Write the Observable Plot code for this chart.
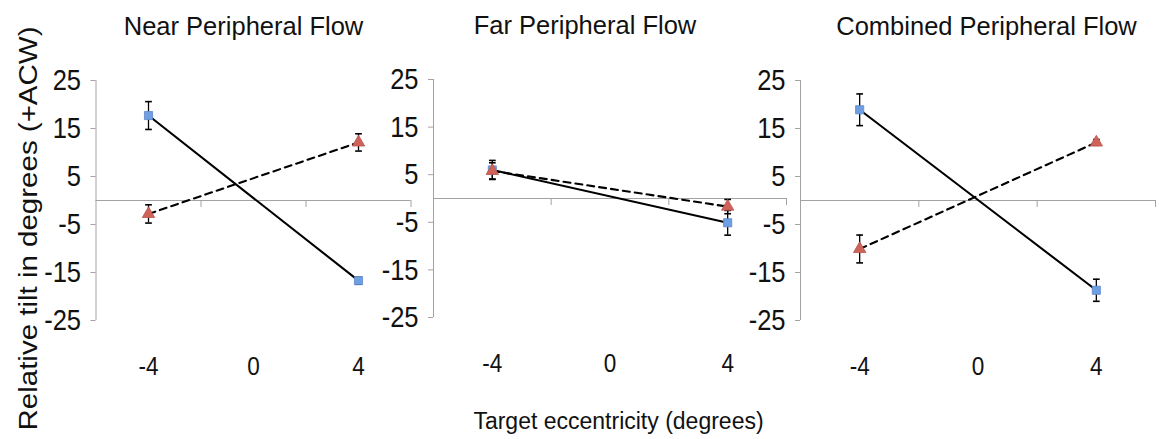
<!DOCTYPE html>
<html>
<head>
<meta charset="utf-8">
<script src="https://cdn.jsdelivr.net/npm/d3@7"></script>
<script src="https://cdn.jsdelivr.net/npm/@observablehq/plot@0.6"></script>
<style>
  html, body { margin: 0; padding: 0; background: #fff; }
  #chart { position: relative; width: 1159px; height: 439px; overflow: hidden; background: #fff; }
  #chart svg { position: absolute; top: 0; overflow: visible; background: transparent; }
</style>
</head>
<body>
<div id="chart"></div>
<script>
// Target eccentricity (degrees): tick labels and the two measured positions
const eccentricityTicks = [-4, 0, 4];
const eccentricity = [-4, 4];
// Category boundaries on the zero line
const boundaryTicks = [-2, 2, 6];
const xDomain = [-6, 6];

// Relative tilt (degrees, +ACW)
const tiltTicks = [25, 15, 5, -5, -15, -25];
const yDomain = [-25, 25];

const panelTitles = ["Near Peripheral Flow", "Far Peripheral Flow", "Combined Peripheral Flow"];
const yLabel = "Relative tilt in degrees (+ACW)";
const xLabel = "Target eccentricity (degrees)";

// Square series (solid line) and triangle series (dashed line), with error bars
const nearSquare = [17.7, -16.7];
const nearSquareErr = [2.9, 0.7];
const nearTriangle = [-2.8, 12.1];
const nearTriangleErr = [1.9, 1.8];

const farSquare = [6.0, -5.1];
const farSquareErr = [2.0, 2.6];
const farTriangle = [5.8, -1.7];
const farTriangleErr = [1.7, 1.5];

const combinedSquare = [18.9, -18.7];
const combinedSquareErr = [3.3, 2.3];
const combinedTriangle = [-10.1, 12.1];
const combinedTriangleErr = [2.9, 0.6];

const FONT = "'Liberation Sans', Arial, Helvetica, sans-serif";
const AXIS_GRAY = "#a3a3a3";
const TEXT = "#111";
const BLUE = "#6e9fe3";
const BLUE_EDGE = "#5d88c9";
const RED = "#cf6259";
const RED_EDGE = "#b9544c";
const TICK_CONDENSE = 0.85;   // tick numerals are set in a narrow cut
const LABEL_CONDENSE = 0.86;  // vertical axis title glyphs are narrow too

const plain = d => `${d}`;    // hyphen-minus for negative numbers

// Horizontal error-bar cap drawn as a dot symbol
const cap = {
  draw(context, size) {
    const w = Math.sqrt(size) / 2;
    context.moveTo(-w, 0);
    context.lineTo(w, 0);
  }
};

function rowsFor(values, errors, series) {
  return eccentricity.map((x, i) => ({x, y: values[i], err: errors[i], series}));
}

function panel({title, square, squareErr, triangle, triangleErr, layout, extras = []}) {
  const sq = rowsFor(square, squareErr, "square");
  const tr = rowsFor(triangle, triangleErr, "triangle");
  const rows = sq.concat(tr);
  const svg = Plot.plot({
    width: layout.width,
    height: 439,
    marginLeft: layout.marginLeft,
    marginRight: layout.marginRight,
    marginTop: layout.marginTop,
    marginBottom: 439 - layout.frameBottom,
    style: {background: "transparent", overflow: "visible"},
    x: {domain: xDomain, axis: null},
    y: {domain: yDomain, axis: null},
    marks: [
      // vertical axis line and outward ticks
      Plot.ruleX([xDomain[0]], {stroke: AXIS_GRAY, strokeWidth: 1}),
      Plot.axisY({ticks: tiltTicks, tickFormat: plain, tickSize: 5, tickPadding: 10, stroke: AXIS_GRAY,
        fill: TEXT, fontSize: 30, fontFamily: FONT, label: null}),
      // zero line with hanging category ticks
      Plot.ruleY([0], {stroke: AXIS_GRAY, strokeWidth: 1}),
      Plot.ruleX(boundaryTicks, {y1: 0, y2: 0, insetBottom: -7, stroke: AXIS_GRAY, strokeWidth: 1}),
      Plot.axisX({ticks: eccentricityTicks, tickFormat: plain, tickSize: 0, tickPadding: 36, fill: TEXT,
        fontSize: 26.5, fontFamily: FONT, label: null}),
      // series lines
      Plot.line(sq, {x: "x", y: "y", stroke: "#000", strokeWidth: 2.1}),
      Plot.line(tr, {x: "x", y: "y", stroke: "#000", strokeWidth: 2.1, strokeDasharray: "7,5"}),
      // error bars
      Plot.ruleX(rows, {x: "x", y1: d => d.y - d.err, y2: d => d.y + d.err, stroke: "#000", strokeWidth: 1.3}),
      Plot.dot(rows, {x: "x", y: d => d.y - d.err, symbol: cap, r: 3.8, fill: "none", stroke: "#000", strokeWidth: 1.6}),
      Plot.dot(rows, {x: "x", y: d => d.y + d.err, symbol: cap, r: 3.8, fill: "none", stroke: "#000", strokeWidth: 1.6}),
      // markers
      Plot.dot(sq, {x: "x", y: "y", symbol: "square", r: 4.6, fill: BLUE, stroke: BLUE_EDGE, strokeWidth: 0.8}),
      Plot.dot(tr, {x: "x", y: "y", symbol: "triangle", r: 4.6, fill: RED, stroke: RED_EDGE, strokeWidth: 0.8}),
      // panel title
      Plot.text([title], {frameAnchor: "top", dx: layout.titleDx, dy: -53.2, lineAnchor: "middle",
        fontSize: 25.5, fontFamily: FONT, fill: TEXT}),
      ...extras
    ]
  });
  svg.style.left = layout.left + "px";
  return svg;
}

// Narrow the tick numerals once they can be measured
function condenseTicks(svg) {
  svg.querySelectorAll('g[aria-label$="tick label"] text').forEach(t => {
    const len = t.getComputedTextLength();
    t.setAttribute("textLength", (len * TICK_CONDENSE).toFixed(2));
    t.setAttribute("lengthAdjust", "spacingAndGlyphs");
  });
}

// Make the rotated axis title's glyphs narrower across their stroke direction
function condenseRotated(svg) {
  svg.querySelectorAll("text").forEach(t => {
    if (t.textContent !== yLabel) return;
    const tr = t.getAttribute("transform") || "";
    if (tr.includes("rotate(")) {
      t.setAttribute("transform", tr.replace(/rotate\(/, `scale(${LABEL_CONDENSE},1) rotate(`));
    }
  });
}

const chart = document.getElementById("chart");

const p1 = chart.appendChild(panel({
  title: panelTitles[0],
  square: nearSquare, squareErr: nearSquareErr,
  triangle: nearTriangle, triangleErr: nearTriangleErr,
  layout: {left: 0, width: 420, marginLeft: 95.5, marginRight: 9.5, marginTop: 80, frameBottom: 320, titleDx: -10},
  extras: [
    Plot.text([yLabel], {frameAnchor: "left", rotate: -90, dx: -67, dy: 28, textAnchor: "middle",
      lineAnchor: "middle", fontSize: 29.5, fontFamily: FONT, fill: TEXT})
  ]
}));

const p2 = chart.appendChild(panel({
  title: panelTitles[1],
  square: farSquare, squareErr: farSquareErr,
  triangle: farTriangle, triangleErr: farTriangleErr,
  layout: {left: 340, width: 460, marginLeft: 93, marginRight: 14, marginTop: 79, frameBottom: 317, titleDx: -25},
  extras: [
    Plot.text([xLabel], {frameAnchor: "bottom", dx: 8.5, dy: 104,
      lineAnchor: "middle", fontSize: 23, fontFamily: FONT, fill: TEXT})
  ]
}));

const p3 = chart.appendChild(panel({
  title: panelTitles[2],
  square: combinedSquare, squareErr: combinedSquareErr,
  triangle: combinedTriangle, triangleErr: combinedTriangleErr,
  layout: {left: 720, width: 439, marginLeft: 80, marginRight: 4, marginTop: 80, frameBottom: 320, titleDx: 8.5}
}));

[p1, p2, p3].forEach(condenseTicks);
condenseRotated(p1);
</script>
</body>
</html>
